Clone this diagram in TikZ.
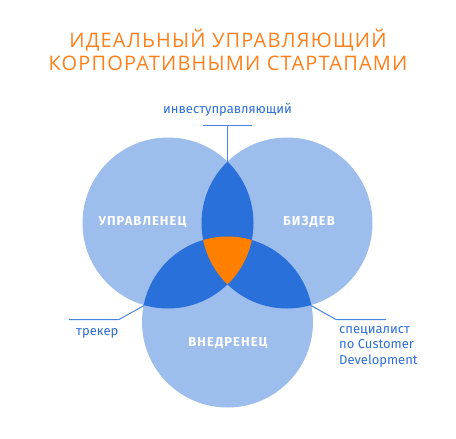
\documentclass[tikz,border=0pt]{standalone}
\usepackage{fontspec}
\setmainfont{Fira Sans}
\newfontfamily\titlefont[LetterSpace=6]{Open Sans}
\newfontfamily\labfont[LetterSpace=8]{Fira Sans}
\definecolor{lightb}{HTML}{9DBDEC}
\definecolor{darkb}{HTML}{2970DB}
\definecolor{orng}{HTML}{FF7F00}
\definecolor{ttl}{HTML}{FF7F1A}
\definecolor{txtb}{HTML}{2E6ED6}
\definecolor{lineb}{HTML}{4A86E0}
\tikzset{
  x=1pt, y=-1pt,
  circlab/.style={text=white, font=\labfont\bfseries\fontsize{13}{15}\selectfont, inner sep=0pt},
  smalllab/.style={text=txtb, font=\fontsize{13}{15.5}\selectfont, inner sep=0pt},
  leader/.style={draw=lineb, line width=1pt},
}
\begin{document}
\begin{tikzpicture}
\useasboundingbox (0,0) rectangle (456,439);
\def\R{85.5}
\coordinate (cl) at (168,223);
\coordinate (cr) at (287,223);
\coordinate (cb) at (227.5,322);
% base circles
\fill[lightb] (cl) circle (\R);
\fill[lightb] (cr) circle (\R);
\fill[lightb] (cb) circle (\R);
% pairwise intersections
\begin{scope}\clip (cl) circle (\R); \fill[darkb] (cr) circle (\R); \end{scope}
\begin{scope}\clip (cl) circle (\R); \fill[darkb] (cb) circle (\R); \end{scope}
\begin{scope}\clip (cr) circle (\R); \fill[darkb] (cb) circle (\R); \end{scope}
% triple intersection
\begin{scope}\clip (cl) circle (\R); \clip (cr) circle (\R); \fill[orng] (cb) circle (\R); \end{scope}
% title
\node[text=ttl, font=\titlefont\fontsize{20}{23.5}\selectfont, align=center, inner sep=0pt] (title) at (228,50)
  {ИДЕАЛЬНЫЙ УПРАВЛЯЮЩИЙ\\КОРПОРАТИВНЫМИ СТАРТАПАМИ};
% circle labels
\node[circlab] (l1) at (142.5,222) {УПРАВЛЕНЕЦ};
\node[circlab] (l2) at (309,222) {БИЗДЕВ};
\node[circlab] (l3) at (228,343) {ВНЕДРЕНЕЦ};
% top annotation
\node[smalllab] (inv) at (227.5,110) {инвеступравляющий};
\coordinate (topp) at (227.5,161.6);
\coordinate (topk) at (227.5,125.5);
\coordinate (topa) at (203,125.5);
\coordinate (topb) at (252,125.5);
\draw[leader] (topa) -- (topb);
\draw[leader] (topk) -- (topp);
% left annotation
\coordinate (lp) at (145,305);
\coordinate (lk) at (119,319.5);
\coordinate (le) at (69,319.5);
\draw[leader] (lp) -- (lk) -- (le);
\node[smalllab, anchor=west] (trk) at (76,333) {трекер};
% right annotation
\coordinate (rp) at (310,305);
\coordinate (rk) at (336,319.5);
\coordinate (re) at (386,319.5);
\draw[leader] (rp) -- (rk) -- (re);
\node[smalllab, anchor=north west, align=left] (spec) at (339,326)
  {специалист\\по Customer\\Development};
\end{tikzpicture}
\end{document}
